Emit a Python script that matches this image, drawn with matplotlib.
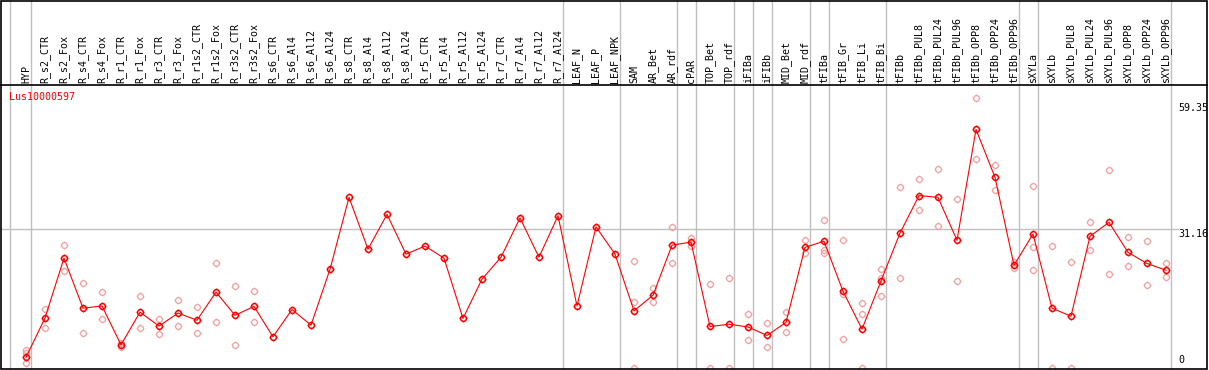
import matplotlib
matplotlib.use("Agg")
import matplotlib.pyplot as plt
from matplotlib.path import Path
from matplotlib.patches import Rectangle
import matplotlib.transforms as mtransforms

gene = "Lus10000597"

samples = [
    "HYP", "R_s2_CTR", "R_s2_Fox", "R_s4_CTR", "R_s4_Fox", "R_r1_CTR", "R_r1_Fox",
    "R_r3_CTR", "R_r3_Fox", "R_r1s2_CTR", "R_r1s2_Fox", "R_r3s2_CTR", "R_r3s2_Fox",
    "R_s6_CTR", "R_s6_Al4", "R_s6_Al12", "R_s6_Al24", "R_s8_CTR", "R_s8_Al4",
    "R_s8_Al12", "R_s8_Al24", "R_r5_CTR", "R_r5_Al4", "R_r5_Al12", "R_r5_Al24",
    "R_r7_CTR", "R_r7_Al4", "R_r7_Al12", "R_r7_Al24", "LEAF_N", "LEAF_P", "LEAF_NPK",
    "SAM", "AR_Bet", "AR_rdf", "cPAR", "TOP_Bet", "TOP_rdf", "iFIBa", "iFIBb",
    "MID_Bet", "MID_rdf", "tFIBa", "tFIB_Gr", "tFIB_Li", "tFIB_Bi", "tFIBb",
    "tFIBb_PUL8", "tFIBb_PUL24", "tFIBb_PUL96", "tFIBb_OPP8", "tFIBb_OPP24",
    "tFIBb_OPP96", "sXYLa", "sXYLb", "sXYLb_PUL8", "sXYLb_PUL24", "sXYLb_PUL96",
    "sXYLb_OPP8", "sXYLb_OPP24", "sXYLb_OPP96",
]

means = [
    2.5, 11.3, 24.7, 13.5, 14.0, 5.3, 12.6, 9.5, 12.4, 10.8, 17.1, 11.9, 13.9,
    7.1, 13.2, 9.7, 22.2, 38.3, 26.7, 34.5, 25.6, 27.4, 24.7, 11.2, 20.0,
    24.9, 33.7, 24.9, 34.2, 14.0, 31.7, 25.6,
    12.9, 16.4, 27.6, 28.3, 9.4, 9.9, 9.3, 7.4, 10.3, 27.1, 28.5, 17.3, 8.8,
    19.6, 30.3, 38.7, 38.3, 28.7, 53.5, 42.8, 23.1, 30.1, 13.5, 11.7, 29.6,
    32.7, 26.0, 23.5, 22.0,
]

replicates = [
    [4.1, 3.4, 1.2], [13.3, 9.0], [27.6, 21.8], [19.1, 7.9], [17.1, 11.0],
    [5.8, 4.7], [16.2, 9.0], [11.0, 7.8], [15.3, 9.4], [13.7, 8.0],
    [23.5, 10.3], [18.4, 5.3], [17.3, 10.3],
    [], [], [], [], [], [], [], [], [], [], [], [], [], [], [], [], [], [], [],
    [24.1, 14.8, 0.0], [18.0, 14.9], [31.7, 23.5], [29.3, 27.4], [18.8, 0.0],
    [20.2, 0.0], [12.1, 6.3], [10.1, 4.7], [12.6, 8.1], [28.7, 25.8],
    [33.2, 26.5, 25.9], [28.7, 16.7, 6.5], [14.6, 12.1, 0.0], [22.3, 20.2, 16.2],
    [40.6, 20.2], [42.3, 35.4], [44.6, 32.0], [37.9, 19.5], [60.5, 46.8],
    [45.5, 39.9], [23.9, 22.4], [40.8, 27.1, 22.0], [27.4, 0.0], [23.8, 0.0],
    [32.7, 26.5], [44.4, 21.1], [29.4, 22.9], [28.5, 18.6], [23.6, 20.4],
]

# last sample index of each tissue group (vertical separators)
group_ends = [-1, 0, 28, 31, 34, 35, 37, 38, 39, 41, 42, 45, 52, 53, 60]
ref_value = 31.16
max_label = 59.35

W, H = 1209, 370
fig = plt.figure(figsize=(W / 100, H / 100), dpi=100)
ax = fig.add_axes([1 / W, 1 / H, 1206 / W, 284 / H])

# column i at x = 26 + 19 i pixels; value v at y = 368.5 - 4.468 v pixels
ax.set_xlim((1 - 26) / 19, (1207 - 26) / 19)
ax.set_ylim(-0.112, 63.45)
ax.set_xticks([])
ax.set_yticks([])
for side in ["left", "right", "bottom"]:
    ax.spines[side].set_visible(False)
ax.spines["top"].set_linewidth(1.2)

grey = "#c0c0c0"
sep_x = [g + 0.24 if g >= 0 else -0.83 for g in group_ends]
ax.vlines(sep_x, 0, 1 + 85 / 284, transform=ax.get_xaxis_transform(),
          color=grey, lw=1, clip_on=False, zorder=0)
ax.axhline(ref_value, xmin=0, xmax=(1178 - 1) / 1206, color=grey, lw=1, zorder=0)

# circle marker with small ticks
tick = 1.35
marker = Path.make_compound_path(
    Path.unit_circle(),
    Path([(0, 1), (0, tick)]), Path([(0, -1), (0, -tick)]),
    Path([(1, 0), (tick, 0)]), Path([(-1, 0), (-tick, 0)]),
)

rx, ry = [], []
for i, reps in enumerate(replicates):
    rx += [i] * len(reps)
    ry += reps
ax.plot(rx, ry, ls="none", marker=marker, ms=5.6, mfc="none", mec="#f0a0a0",
        mew=0.9, zorder=2)

xs = range(len(means))
ax.plot(xs, means, color="red", lw=0.8, zorder=3)
ax.plot(xs, means, ls="none", marker=marker, ms=5.6, mfc="none", mec="red",
        mew=1.1, zorder=4)

mono = "DejaVu Sans Mono"
for i, name in enumerate(samples):
    ax.text(i, 1 + 2 / 284, name, rotation=90, ha="center", va="bottom",
            family=mono, fontsize=7.2, transform=ax.get_xaxis_transform(),
            clip_on=False)

ax.text(8.3 / 1206, 1 - 7 / 284, gene, color="red", family=mono, fontsize=7.2,
        ha="left", va="top", transform=ax.transAxes)

lab_tr = mtransforms.blended_transform_factory(ax.transAxes, ax.transData)
lx = (1178.5 - 1) / 1206
ax.text(lx, max_label, f"{max_label:.2f}", family=mono, fontsize=7.2,
        ha="left", va="top", transform=lab_tr)
ax.text(lx, ref_value, f"{ref_value:.2f}", family=mono, fontsize=7.2,
        ha="left", va="top", transform=lab_tr)
ax.annotate("0", xy=(lx, 0), xycoords=lab_tr, xytext=(0, 3),
            textcoords="offset pixels", family=mono, fontsize=7.2,
            ha="left", va="bottom")

fig.add_artist(Rectangle((1 / W, 1 / H), 1206 / W, 368 / H, fill=False,
                         ec="black", lw=1.2, transform=fig.transFigure))

fig.savefig("out.png", dpi=100)
